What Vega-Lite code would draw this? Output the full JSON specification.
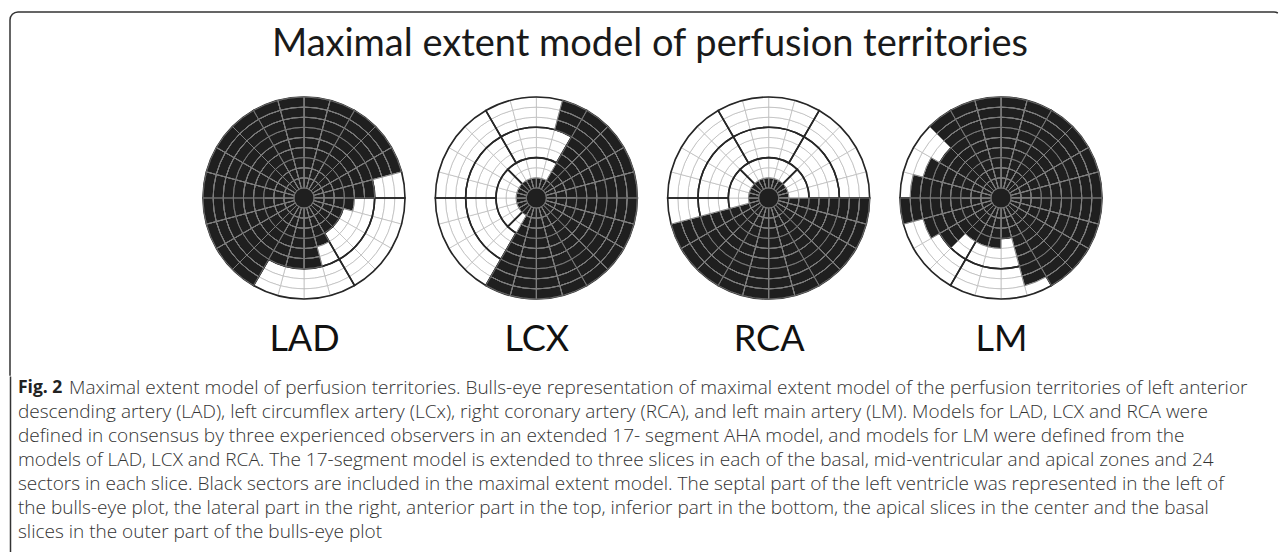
{
 "$schema": "https://vega.github.io/schema/vega-lite/v6.json",
 "background": "white",
 "padding": {"left": 9, "top": 11, "right": 0, "bottom": 0},
 "autosize": {"type": "pad"},
 "spacing": 0,
 "bounds": "flush",
 "config": {"view": {"stroke": null}},
 "datasets": {
  "cells": [
   {"r0":0,"r1":1,"s0":0,"s1":24,"LAD":1,"LCX":1,"RCA":1,"LM":1},
   {"r0":1,"r1":2,"s0":0,"s1":1,"LAD":1,"LCX":1,"RCA":1,"LM":1},
   {"r0":1,"r1":2,"s0":1,"s1":2,"LAD":1,"LCX":1,"RCA":1,"LM":1},
   {"r0":1,"r1":2,"s0":2,"s1":3,"LAD":1,"LCX":1,"RCA":1,"LM":1},
   {"r0":1,"r1":2,"s0":3,"s1":4,"LAD":1,"LCX":1,"RCA":1,"LM":1},
   {"r0":1,"r1":2,"s0":4,"s1":5,"LAD":1,"LCX":1,"RCA":1,"LM":1},
   {"r0":1,"r1":2,"s0":5,"s1":6,"LAD":1,"LCX":1,"RCA":1,"LM":1},
   {"r0":1,"r1":2,"s0":6,"s1":7,"LAD":1,"LCX":1,"RCA":1,"LM":1},
   {"r0":1,"r1":2,"s0":7,"s1":8,"LAD":1,"LCX":1,"RCA":1,"LM":1},
   {"r0":1,"r1":2,"s0":8,"s1":9,"LAD":1,"LCX":1,"RCA":1,"LM":1},
   {"r0":1,"r1":2,"s0":9,"s1":10,"LAD":1,"LCX":1,"RCA":1,"LM":1},
   {"r0":1,"r1":2,"s0":10,"s1":11,"LAD":1,"LCX":1,"RCA":1,"LM":1},
   {"r0":1,"r1":2,"s0":11,"s1":12,"LAD":1,"LCX":1,"RCA":1,"LM":1},
   {"r0":1,"r1":2,"s0":12,"s1":13,"LAD":1,"LCX":1,"RCA":1,"LM":1},
   {"r0":1,"r1":2,"s0":13,"s1":14,"LAD":1,"LCX":1,"RCA":1,"LM":1},
   {"r0":1,"r1":2,"s0":14,"s1":15,"LAD":1,"LCX":1,"RCA":1,"LM":1},
   {"r0":1,"r1":2,"s0":15,"s1":16,"LAD":1,"LCX":1,"RCA":1,"LM":1},
   {"r0":1,"r1":2,"s0":16,"s1":17,"LAD":1,"LCX":1,"RCA":1,"LM":1},
   {"r0":1,"r1":2,"s0":17,"s1":18,"LAD":1,"LCX":1,"RCA":1,"LM":1},
   {"r0":1,"r1":2,"s0":18,"s1":19,"LAD":1,"LCX":1,"RCA":1,"LM":1},
   {"r0":1,"r1":2,"s0":19,"s1":20,"LAD":1,"LCX":1,"RCA":1,"LM":1},
   {"r0":1,"r1":2,"s0":20,"s1":21,"LAD":1,"LCX":1,"RCA":1,"LM":1},
   {"r0":1,"r1":2,"s0":21,"s1":22,"LAD":1,"LCX":1,"RCA":1,"LM":1},
   {"r0":1,"r1":2,"s0":22,"s1":23,"LAD":1,"LCX":1,"RCA":1,"LM":1},
   {"r0":1,"r1":2,"s0":23,"s1":24,"LAD":1,"LCX":1,"RCA":1,"LM":1},

   {"r0":2,"r1":3,"s0":0,"s1":1,"LAD":1,"LCX":0,"RCA":0,"LM":1},
   {"r0":2,"r1":3,"s0":1,"s1":2,"LAD":1,"LCX":0,"RCA":0,"LM":1},
   {"r0":2,"r1":3,"s0":2,"s1":3,"LAD":1,"LCX":1,"RCA":0,"LM":1},
   {"r0":2,"r1":3,"s0":3,"s1":4,"LAD":1,"LCX":1,"RCA":0,"LM":1},
   {"r0":2,"r1":3,"s0":4,"s1":5,"LAD":1,"LCX":1,"RCA":0,"LM":1},
   {"r0":2,"r1":3,"s0":5,"s1":6,"LAD":1,"LCX":1,"RCA":0,"LM":1},
   {"r0":2,"r1":3,"s0":6,"s1":7,"LAD":1,"LCX":1,"RCA":1,"LM":1},
   {"r0":2,"r1":3,"s0":7,"s1":8,"LAD":1,"LCX":1,"RCA":1,"LM":1},
   {"r0":2,"r1":3,"s0":8,"s1":9,"LAD":1,"LCX":1,"RCA":1,"LM":1},
   {"r0":2,"r1":3,"s0":9,"s1":10,"LAD":1,"LCX":1,"RCA":1,"LM":1},
   {"r0":2,"r1":3,"s0":10,"s1":11,"LAD":1,"LCX":1,"RCA":1,"LM":1},
   {"r0":2,"r1":3,"s0":11,"s1":12,"LAD":1,"LCX":1,"RCA":1,"LM":1},
   {"r0":2,"r1":3,"s0":12,"s1":13,"LAD":1,"LCX":1,"RCA":1,"LM":1},
   {"r0":2,"r1":3,"s0":13,"s1":14,"LAD":1,"LCX":1,"RCA":1,"LM":1},
   {"r0":2,"r1":3,"s0":14,"s1":15,"LAD":1,"LCX":0,"RCA":1,"LM":1},
   {"r0":2,"r1":3,"s0":15,"s1":16,"LAD":1,"LCX":0,"RCA":1,"LM":1},
   {"r0":2,"r1":3,"s0":16,"s1":17,"LAD":1,"LCX":0,"RCA":1,"LM":1},
   {"r0":2,"r1":3,"s0":17,"s1":18,"LAD":1,"LCX":0,"RCA":0,"LM":1},
   {"r0":2,"r1":3,"s0":18,"s1":19,"LAD":1,"LCX":0,"RCA":0,"LM":1},
   {"r0":2,"r1":3,"s0":19,"s1":20,"LAD":1,"LCX":0,"RCA":0,"LM":1},
   {"r0":2,"r1":3,"s0":20,"s1":21,"LAD":1,"LCX":0,"RCA":0,"LM":1},
   {"r0":2,"r1":3,"s0":21,"s1":22,"LAD":1,"LCX":0,"RCA":0,"LM":1},
   {"r0":2,"r1":3,"s0":22,"s1":23,"LAD":1,"LCX":0,"RCA":0,"LM":1},
   {"r0":2,"r1":3,"s0":23,"s1":24,"LAD":1,"LCX":0,"RCA":0,"LM":1},

   {"r0":3,"r1":4,"s0":0,"s1":1,"LAD":1,"LCX":0,"RCA":0,"LM":1},
   {"r0":3,"r1":4,"s0":1,"s1":2,"LAD":1,"LCX":0,"RCA":0,"LM":1},
   {"r0":3,"r1":4,"s0":2,"s1":3,"LAD":1,"LCX":1,"RCA":0,"LM":1},
   {"r0":3,"r1":4,"s0":3,"s1":4,"LAD":1,"LCX":1,"RCA":0,"LM":1},
   {"r0":3,"r1":4,"s0":4,"s1":5,"LAD":1,"LCX":1,"RCA":0,"LM":1},
   {"r0":3,"r1":4,"s0":5,"s1":6,"LAD":1,"LCX":1,"RCA":0,"LM":1},
   {"r0":3,"r1":4,"s0":6,"s1":7,"LAD":1,"LCX":1,"RCA":1,"LM":1},
   {"r0":3,"r1":4,"s0":7,"s1":8,"LAD":1,"LCX":1,"RCA":1,"LM":1},
   {"r0":3,"r1":4,"s0":8,"s1":9,"LAD":1,"LCX":1,"RCA":1,"LM":1},
   {"r0":3,"r1":4,"s0":9,"s1":10,"LAD":1,"LCX":1,"RCA":1,"LM":1},
   {"r0":3,"r1":4,"s0":10,"s1":11,"LAD":1,"LCX":1,"RCA":1,"LM":1},
   {"r0":3,"r1":4,"s0":11,"s1":12,"LAD":1,"LCX":1,"RCA":1,"LM":1},
   {"r0":3,"r1":4,"s0":12,"s1":13,"LAD":1,"LCX":1,"RCA":1,"LM":1},
   {"r0":3,"r1":4,"s0":13,"s1":14,"LAD":1,"LCX":1,"RCA":1,"LM":1},
   {"r0":3,"r1":4,"s0":14,"s1":15,"LAD":1,"LCX":0,"RCA":1,"LM":1},
   {"r0":3,"r1":4,"s0":15,"s1":16,"LAD":1,"LCX":0,"RCA":1,"LM":1},
   {"r0":3,"r1":4,"s0":16,"s1":17,"LAD":1,"LCX":0,"RCA":1,"LM":1},
   {"r0":3,"r1":4,"s0":17,"s1":18,"LAD":1,"LCX":0,"RCA":0,"LM":1},
   {"r0":3,"r1":4,"s0":18,"s1":19,"LAD":1,"LCX":0,"RCA":0,"LM":1},
   {"r0":3,"r1":4,"s0":19,"s1":20,"LAD":1,"LCX":0,"RCA":0,"LM":1},
   {"r0":3,"r1":4,"s0":20,"s1":21,"LAD":1,"LCX":0,"RCA":0,"LM":1},
   {"r0":3,"r1":4,"s0":21,"s1":22,"LAD":1,"LCX":0,"RCA":0,"LM":1},
   {"r0":3,"r1":4,"s0":22,"s1":23,"LAD":1,"LCX":0,"RCA":0,"LM":1},
   {"r0":3,"r1":4,"s0":23,"s1":24,"LAD":1,"LCX":0,"RCA":0,"LM":1},

   {"r0":4,"r1":5,"s0":0,"s1":1,"LAD":1,"LCX":0,"RCA":0,"LM":1},
   {"r0":4,"r1":5,"s0":1,"s1":2,"LAD":1,"LCX":0,"RCA":0,"LM":1},
   {"r0":4,"r1":5,"s0":2,"s1":3,"LAD":1,"LCX":1,"RCA":0,"LM":1},
   {"r0":4,"r1":5,"s0":3,"s1":4,"LAD":1,"LCX":1,"RCA":0,"LM":1},
   {"r0":4,"r1":5,"s0":4,"s1":5,"LAD":1,"LCX":1,"RCA":0,"LM":1},
   {"r0":4,"r1":5,"s0":5,"s1":6,"LAD":1,"LCX":1,"RCA":0,"LM":1},
   {"r0":4,"r1":5,"s0":6,"s1":7,"LAD":1,"LCX":1,"RCA":1,"LM":1},
   {"r0":4,"r1":5,"s0":7,"s1":8,"LAD":0,"LCX":1,"RCA":1,"LM":1},
   {"r0":4,"r1":5,"s0":8,"s1":9,"LAD":0,"LCX":1,"RCA":1,"LM":1},
   {"r0":4,"r1":5,"s0":9,"s1":10,"LAD":0,"LCX":1,"RCA":1,"LM":1},
   {"r0":4,"r1":5,"s0":10,"s1":11,"LAD":1,"LCX":1,"RCA":1,"LM":1},
   {"r0":4,"r1":5,"s0":11,"s1":12,"LAD":1,"LCX":1,"RCA":1,"LM":0},
   {"r0":4,"r1":5,"s0":12,"s1":13,"LAD":1,"LCX":1,"RCA":1,"LM":1},
   {"r0":4,"r1":5,"s0":13,"s1":14,"LAD":1,"LCX":1,"RCA":1,"LM":1},
   {"r0":4,"r1":5,"s0":14,"s1":15,"LAD":1,"LCX":0,"RCA":1,"LM":1},
   {"r0":4,"r1":5,"s0":15,"s1":16,"LAD":1,"LCX":0,"RCA":1,"LM":1},
   {"r0":4,"r1":5,"s0":16,"s1":17,"LAD":1,"LCX":0,"RCA":1,"LM":1},
   {"r0":4,"r1":5,"s0":17,"s1":18,"LAD":1,"LCX":0,"RCA":0,"LM":1},
   {"r0":4,"r1":5,"s0":18,"s1":19,"LAD":1,"LCX":0,"RCA":0,"LM":1},
   {"r0":4,"r1":5,"s0":19,"s1":20,"LAD":1,"LCX":0,"RCA":0,"LM":1},
   {"r0":4,"r1":5,"s0":20,"s1":21,"LAD":1,"LCX":0,"RCA":0,"LM":1},
   {"r0":4,"r1":5,"s0":21,"s1":22,"LAD":1,"LCX":0,"RCA":0,"LM":1},
   {"r0":4,"r1":5,"s0":22,"s1":23,"LAD":1,"LCX":0,"RCA":0,"LM":1},
   {"r0":4,"r1":5,"s0":23,"s1":24,"LAD":1,"LCX":0,"RCA":0,"LM":1},

   {"r0":5,"r1":6,"s0":0,"s1":1,"LAD":1,"LCX":0,"RCA":0,"LM":1},
   {"r0":5,"r1":6,"s0":1,"s1":2,"LAD":1,"LCX":0,"RCA":0,"LM":1},
   {"r0":5,"r1":6,"s0":2,"s1":3,"LAD":1,"LCX":1,"RCA":0,"LM":1},
   {"r0":5,"r1":6,"s0":3,"s1":4,"LAD":1,"LCX":1,"RCA":0,"LM":1},
   {"r0":5,"r1":6,"s0":4,"s1":5,"LAD":1,"LCX":1,"RCA":0,"LM":1},
   {"r0":5,"r1":6,"s0":5,"s1":6,"LAD":1,"LCX":1,"RCA":0,"LM":1},
   {"r0":5,"r1":6,"s0":6,"s1":7,"LAD":0,"LCX":1,"RCA":1,"LM":1},
   {"r0":5,"r1":6,"s0":7,"s1":8,"LAD":0,"LCX":1,"RCA":1,"LM":1},
   {"r0":5,"r1":6,"s0":8,"s1":9,"LAD":0,"LCX":1,"RCA":1,"LM":1},
   {"r0":5,"r1":6,"s0":9,"s1":10,"LAD":0,"LCX":1,"RCA":1,"LM":1},
   {"r0":5,"r1":6,"s0":10,"s1":11,"LAD":0,"LCX":1,"RCA":1,"LM":1},
   {"r0":5,"r1":6,"s0":11,"s1":12,"LAD":1,"LCX":1,"RCA":1,"LM":0},
   {"r0":5,"r1":6,"s0":12,"s1":13,"LAD":1,"LCX":1,"RCA":1,"LM":0},
   {"r0":5,"r1":6,"s0":13,"s1":14,"LAD":1,"LCX":1,"RCA":1,"LM":0},
   {"r0":5,"r1":6,"s0":14,"s1":15,"LAD":1,"LCX":0,"RCA":1,"LM":0},
   {"r0":5,"r1":6,"s0":15,"s1":16,"LAD":1,"LCX":0,"RCA":1,"LM":1},
   {"r0":5,"r1":6,"s0":16,"s1":17,"LAD":1,"LCX":0,"RCA":1,"LM":1},
   {"r0":5,"r1":6,"s0":17,"s1":18,"LAD":1,"LCX":0,"RCA":0,"LM":1},
   {"r0":5,"r1":6,"s0":18,"s1":19,"LAD":1,"LCX":0,"RCA":0,"LM":1},
   {"r0":5,"r1":6,"s0":19,"s1":20,"LAD":1,"LCX":0,"RCA":0,"LM":1},
   {"r0":5,"r1":6,"s0":20,"s1":21,"LAD":1,"LCX":0,"RCA":0,"LM":1},
   {"r0":5,"r1":6,"s0":21,"s1":22,"LAD":1,"LCX":0,"RCA":0,"LM":1},
   {"r0":5,"r1":6,"s0":22,"s1":23,"LAD":1,"LCX":0,"RCA":0,"LM":1},
   {"r0":5,"r1":6,"s0":23,"s1":24,"LAD":1,"LCX":0,"RCA":0,"LM":1},

   {"r0":6,"r1":7,"s0":0,"s1":1,"LAD":1,"LCX":0,"RCA":0,"LM":1},
   {"r0":6,"r1":7,"s0":1,"s1":2,"LAD":1,"LCX":0,"RCA":0,"LM":1},
   {"r0":6,"r1":7,"s0":2,"s1":3,"LAD":1,"LCX":1,"RCA":0,"LM":1},
   {"r0":6,"r1":7,"s0":3,"s1":4,"LAD":1,"LCX":1,"RCA":0,"LM":1},
   {"r0":6,"r1":7,"s0":4,"s1":5,"LAD":1,"LCX":1,"RCA":0,"LM":1},
   {"r0":6,"r1":7,"s0":5,"s1":6,"LAD":1,"LCX":1,"RCA":0,"LM":1},
   {"r0":6,"r1":7,"s0":6,"s1":7,"LAD":0,"LCX":1,"RCA":1,"LM":1},
   {"r0":6,"r1":7,"s0":7,"s1":8,"LAD":0,"LCX":1,"RCA":1,"LM":1},
   {"r0":6,"r1":7,"s0":8,"s1":9,"LAD":0,"LCX":1,"RCA":1,"LM":1},
   {"r0":6,"r1":7,"s0":9,"s1":10,"LAD":0,"LCX":1,"RCA":1,"LM":1},
   {"r0":6,"r1":7,"s0":10,"s1":11,"LAD":0,"LCX":1,"RCA":1,"LM":1},
   {"r0":6,"r1":7,"s0":11,"s1":12,"LAD":1,"LCX":1,"RCA":1,"LM":0},
   {"r0":6,"r1":7,"s0":12,"s1":13,"LAD":1,"LCX":1,"RCA":1,"LM":0},
   {"r0":6,"r1":7,"s0":13,"s1":14,"LAD":1,"LCX":1,"RCA":1,"LM":0},
   {"r0":6,"r1":7,"s0":14,"s1":15,"LAD":1,"LCX":0,"RCA":1,"LM":0},
   {"r0":6,"r1":7,"s0":15,"s1":16,"LAD":1,"LCX":0,"RCA":1,"LM":1},
   {"r0":6,"r1":7,"s0":16,"s1":17,"LAD":1,"LCX":0,"RCA":1,"LM":1},
   {"r0":6,"r1":7,"s0":17,"s1":18,"LAD":1,"LCX":0,"RCA":0,"LM":1},
   {"r0":6,"r1":7,"s0":18,"s1":19,"LAD":1,"LCX":0,"RCA":0,"LM":1},
   {"r0":6,"r1":7,"s0":19,"s1":20,"LAD":1,"LCX":0,"RCA":0,"LM":1},
   {"r0":6,"r1":7,"s0":20,"s1":21,"LAD":1,"LCX":0,"RCA":0,"LM":1},
   {"r0":6,"r1":7,"s0":21,"s1":22,"LAD":1,"LCX":0,"RCA":0,"LM":1},
   {"r0":6,"r1":7,"s0":22,"s1":23,"LAD":1,"LCX":0,"RCA":0,"LM":1},
   {"r0":6,"r1":7,"s0":23,"s1":24,"LAD":1,"LCX":0,"RCA":0,"LM":1},

   {"r0":7,"r1":8,"s0":0,"s1":1,"LAD":1,"LCX":0,"RCA":0,"LM":1},
   {"r0":7,"r1":8,"s0":1,"s1":2,"LAD":1,"LCX":1,"RCA":0,"LM":1},
   {"r0":7,"r1":8,"s0":2,"s1":3,"LAD":1,"LCX":1,"RCA":0,"LM":1},
   {"r0":7,"r1":8,"s0":3,"s1":4,"LAD":1,"LCX":1,"RCA":0,"LM":1},
   {"r0":7,"r1":8,"s0":4,"s1":5,"LAD":1,"LCX":1,"RCA":0,"LM":1},
   {"r0":7,"r1":8,"s0":5,"s1":6,"LAD":0,"LCX":1,"RCA":0,"LM":1},
   {"r0":7,"r1":8,"s0":6,"s1":7,"LAD":0,"LCX":1,"RCA":1,"LM":1},
   {"r0":7,"r1":8,"s0":7,"s1":8,"LAD":0,"LCX":1,"RCA":1,"LM":1},
   {"r0":7,"r1":8,"s0":8,"s1":9,"LAD":0,"LCX":1,"RCA":1,"LM":1},
   {"r0":7,"r1":8,"s0":9,"s1":10,"LAD":0,"LCX":1,"RCA":1,"LM":1},
   {"r0":7,"r1":8,"s0":10,"s1":11,"LAD":0,"LCX":1,"RCA":1,"LM":1},
   {"r0":7,"r1":8,"s0":11,"s1":12,"LAD":0,"LCX":1,"RCA":1,"LM":0},
   {"r0":7,"r1":8,"s0":12,"s1":13,"LAD":0,"LCX":1,"RCA":1,"LM":0},
   {"r0":7,"r1":8,"s0":13,"s1":14,"LAD":0,"LCX":1,"RCA":1,"LM":0},
   {"r0":7,"r1":8,"s0":14,"s1":15,"LAD":1,"LCX":0,"RCA":1,"LM":0},
   {"r0":7,"r1":8,"s0":15,"s1":16,"LAD":1,"LCX":0,"RCA":1,"LM":0},
   {"r0":7,"r1":8,"s0":16,"s1":17,"LAD":1,"LCX":0,"RCA":1,"LM":1},
   {"r0":7,"r1":8,"s0":17,"s1":18,"LAD":1,"LCX":0,"RCA":0,"LM":1},
   {"r0":7,"r1":8,"s0":18,"s1":19,"LAD":1,"LCX":0,"RCA":0,"LM":1},
   {"r0":7,"r1":8,"s0":19,"s1":20,"LAD":1,"LCX":0,"RCA":0,"LM":1},
   {"r0":7,"r1":8,"s0":20,"s1":21,"LAD":1,"LCX":0,"RCA":0,"LM":0},
   {"r0":7,"r1":8,"s0":21,"s1":22,"LAD":1,"LCX":0,"RCA":0,"LM":1},
   {"r0":7,"r1":8,"s0":22,"s1":23,"LAD":1,"LCX":0,"RCA":0,"LM":1},
   {"r0":7,"r1":8,"s0":23,"s1":24,"LAD":1,"LCX":0,"RCA":0,"LM":1},

   {"r0":8,"r1":9,"s0":0,"s1":1,"LAD":1,"LCX":0,"RCA":0,"LM":1},
   {"r0":8,"r1":9,"s0":1,"s1":2,"LAD":1,"LCX":1,"RCA":0,"LM":1},
   {"r0":8,"r1":9,"s0":2,"s1":3,"LAD":1,"LCX":1,"RCA":0,"LM":1},
   {"r0":8,"r1":9,"s0":3,"s1":4,"LAD":1,"LCX":1,"RCA":0,"LM":1},
   {"r0":8,"r1":9,"s0":4,"s1":5,"LAD":1,"LCX":1,"RCA":0,"LM":1},
   {"r0":8,"r1":9,"s0":5,"s1":6,"LAD":0,"LCX":1,"RCA":0,"LM":1},
   {"r0":8,"r1":9,"s0":6,"s1":7,"LAD":0,"LCX":1,"RCA":1,"LM":1},
   {"r0":8,"r1":9,"s0":7,"s1":8,"LAD":0,"LCX":1,"RCA":1,"LM":1},
   {"r0":8,"r1":9,"s0":8,"s1":9,"LAD":0,"LCX":1,"RCA":1,"LM":1},
   {"r0":8,"r1":9,"s0":9,"s1":10,"LAD":0,"LCX":1,"RCA":1,"LM":1},
   {"r0":8,"r1":9,"s0":10,"s1":11,"LAD":0,"LCX":1,"RCA":1,"LM":1},
   {"r0":8,"r1":9,"s0":11,"s1":12,"LAD":0,"LCX":1,"RCA":1,"LM":0},
   {"r0":8,"r1":9,"s0":12,"s1":13,"LAD":0,"LCX":1,"RCA":1,"LM":0},
   {"r0":8,"r1":9,"s0":13,"s1":14,"LAD":0,"LCX":1,"RCA":1,"LM":0},
   {"r0":8,"r1":9,"s0":14,"s1":15,"LAD":1,"LCX":0,"RCA":1,"LM":0},
   {"r0":8,"r1":9,"s0":15,"s1":16,"LAD":1,"LCX":0,"RCA":1,"LM":0},
   {"r0":8,"r1":9,"s0":16,"s1":17,"LAD":1,"LCX":0,"RCA":1,"LM":0},
   {"r0":8,"r1":9,"s0":17,"s1":18,"LAD":1,"LCX":0,"RCA":0,"LM":1},
   {"r0":8,"r1":9,"s0":18,"s1":19,"LAD":1,"LCX":0,"RCA":0,"LM":1},
   {"r0":8,"r1":9,"s0":19,"s1":20,"LAD":1,"LCX":0,"RCA":0,"LM":0},
   {"r0":8,"r1":9,"s0":20,"s1":21,"LAD":1,"LCX":0,"RCA":0,"LM":0},
   {"r0":8,"r1":9,"s0":21,"s1":22,"LAD":1,"LCX":0,"RCA":0,"LM":1},
   {"r0":8,"r1":9,"s0":22,"s1":23,"LAD":1,"LCX":0,"RCA":0,"LM":1},
   {"r0":8,"r1":9,"s0":23,"s1":24,"LAD":1,"LCX":0,"RCA":0,"LM":1},

   {"r0":9,"r1":10,"s0":0,"s1":1,"LAD":1,"LCX":0,"RCA":0,"LM":1},
   {"r0":9,"r1":10,"s0":1,"s1":2,"LAD":1,"LCX":1,"RCA":0,"LM":1},
   {"r0":9,"r1":10,"s0":2,"s1":3,"LAD":1,"LCX":1,"RCA":0,"LM":1},
   {"r0":9,"r1":10,"s0":3,"s1":4,"LAD":1,"LCX":1,"RCA":0,"LM":1},
   {"r0":9,"r1":10,"s0":4,"s1":5,"LAD":1,"LCX":1,"RCA":0,"LM":1},
   {"r0":9,"r1":10,"s0":5,"s1":6,"LAD":0,"LCX":1,"RCA":0,"LM":1},
   {"r0":9,"r1":10,"s0":6,"s1":7,"LAD":0,"LCX":1,"RCA":1,"LM":1},
   {"r0":9,"r1":10,"s0":7,"s1":8,"LAD":0,"LCX":1,"RCA":1,"LM":1},
   {"r0":9,"r1":10,"s0":8,"s1":9,"LAD":0,"LCX":1,"RCA":1,"LM":1},
   {"r0":9,"r1":10,"s0":9,"s1":10,"LAD":0,"LCX":1,"RCA":1,"LM":1},
   {"r0":9,"r1":10,"s0":10,"s1":11,"LAD":0,"LCX":1,"RCA":1,"LM":0},
   {"r0":9,"r1":10,"s0":11,"s1":12,"LAD":0,"LCX":1,"RCA":1,"LM":0},
   {"r0":9,"r1":10,"s0":12,"s1":13,"LAD":0,"LCX":1,"RCA":1,"LM":0},
   {"r0":9,"r1":10,"s0":13,"s1":14,"LAD":0,"LCX":1,"RCA":1,"LM":0},
   {"r0":9,"r1":10,"s0":14,"s1":15,"LAD":1,"LCX":0,"RCA":1,"LM":0},
   {"r0":9,"r1":10,"s0":15,"s1":16,"LAD":1,"LCX":0,"RCA":1,"LM":0},
   {"r0":9,"r1":10,"s0":16,"s1":17,"LAD":1,"LCX":0,"RCA":1,"LM":0},
   {"r0":9,"r1":10,"s0":17,"s1":18,"LAD":1,"LCX":0,"RCA":0,"LM":1},
   {"r0":9,"r1":10,"s0":18,"s1":19,"LAD":1,"LCX":0,"RCA":0,"LM":0},
   {"r0":9,"r1":10,"s0":19,"s1":20,"LAD":1,"LCX":0,"RCA":0,"LM":0},
   {"r0":9,"r1":10,"s0":20,"s1":21,"LAD":1,"LCX":0,"RCA":0,"LM":0},
   {"r0":9,"r1":10,"s0":21,"s1":22,"LAD":1,"LCX":0,"RCA":0,"LM":1},
   {"r0":9,"r1":10,"s0":22,"s1":23,"LAD":1,"LCX":0,"RCA":0,"LM":1},
   {"r0":9,"r1":10,"s0":23,"s1":24,"LAD":1,"LCX":0,"RCA":0,"LM":1}
  ],
  "segments": [
   {"model":"LAD","r0":1,"r1":4,"s0":-3,"s1":3},{"model":"LAD","r0":1,"r1":4,"s0":3,"s1":9},{"model":"LAD","r0":1,"r1":4,"s0":9,"s1":15},{"model":"LAD","r0":1,"r1":4,"s0":15,"s1":21},
   {"model":"LAD","r0":4,"r1":7,"s0":-2,"s1":2},{"model":"LAD","r0":4,"r1":7,"s0":2,"s1":6},{"model":"LAD","r0":4,"r1":7,"s0":6,"s1":10},{"model":"LAD","r0":4,"r1":7,"s0":10,"s1":14},{"model":"LAD","r0":4,"r1":7,"s0":14,"s1":18},{"model":"LAD","r0":4,"r1":7,"s0":18,"s1":22},
   {"model":"LAD","r0":7,"r1":10,"s0":-2,"s1":2},{"model":"LAD","r0":7,"r1":10,"s0":2,"s1":6},{"model":"LAD","r0":7,"r1":10,"s0":6,"s1":10},{"model":"LAD","r0":7,"r1":10,"s0":10,"s1":14},{"model":"LAD","r0":7,"r1":10,"s0":14,"s1":18},{"model":"LAD","r0":7,"r1":10,"s0":18,"s1":22},
   {"model":"LCX","r0":1,"r1":4,"s0":-3,"s1":3},{"model":"LCX","r0":1,"r1":4,"s0":3,"s1":9},{"model":"LCX","r0":1,"r1":4,"s0":9,"s1":15},{"model":"LCX","r0":1,"r1":4,"s0":15,"s1":21},
   {"model":"LCX","r0":4,"r1":7,"s0":-2,"s1":2},{"model":"LCX","r0":4,"r1":7,"s0":2,"s1":6},{"model":"LCX","r0":4,"r1":7,"s0":6,"s1":10},{"model":"LCX","r0":4,"r1":7,"s0":10,"s1":14},{"model":"LCX","r0":4,"r1":7,"s0":14,"s1":18},{"model":"LCX","r0":4,"r1":7,"s0":18,"s1":22},
   {"model":"LCX","r0":7,"r1":10,"s0":-2,"s1":2},{"model":"LCX","r0":7,"r1":10,"s0":2,"s1":6},{"model":"LCX","r0":7,"r1":10,"s0":6,"s1":10},{"model":"LCX","r0":7,"r1":10,"s0":10,"s1":14},{"model":"LCX","r0":7,"r1":10,"s0":14,"s1":18},{"model":"LCX","r0":7,"r1":10,"s0":18,"s1":22},
   {"model":"RCA","r0":1,"r1":4,"s0":-3,"s1":3},{"model":"RCA","r0":1,"r1":4,"s0":3,"s1":9},{"model":"RCA","r0":1,"r1":4,"s0":9,"s1":15},{"model":"RCA","r0":1,"r1":4,"s0":15,"s1":21},
   {"model":"RCA","r0":4,"r1":7,"s0":-2,"s1":2},{"model":"RCA","r0":4,"r1":7,"s0":2,"s1":6},{"model":"RCA","r0":4,"r1":7,"s0":6,"s1":10},{"model":"RCA","r0":4,"r1":7,"s0":10,"s1":14},{"model":"RCA","r0":4,"r1":7,"s0":14,"s1":18},{"model":"RCA","r0":4,"r1":7,"s0":18,"s1":22},
   {"model":"RCA","r0":7,"r1":10,"s0":-2,"s1":2},{"model":"RCA","r0":7,"r1":10,"s0":2,"s1":6},{"model":"RCA","r0":7,"r1":10,"s0":6,"s1":10},{"model":"RCA","r0":7,"r1":10,"s0":10,"s1":14},{"model":"RCA","r0":7,"r1":10,"s0":14,"s1":18},{"model":"RCA","r0":7,"r1":10,"s0":18,"s1":22},
   {"model":"LM","r0":1,"r1":4,"s0":-3,"s1":3},{"model":"LM","r0":1,"r1":4,"s0":3,"s1":9},{"model":"LM","r0":1,"r1":4,"s0":9,"s1":15},{"model":"LM","r0":1,"r1":4,"s0":15,"s1":21},
   {"model":"LM","r0":4,"r1":7,"s0":-2,"s1":2},{"model":"LM","r0":4,"r1":7,"s0":2,"s1":6},{"model":"LM","r0":4,"r1":7,"s0":6,"s1":10},{"model":"LM","r0":4,"r1":7,"s0":10,"s1":14},{"model":"LM","r0":4,"r1":7,"s0":14,"s1":18},{"model":"LM","r0":4,"r1":7,"s0":18,"s1":22},
   {"model":"LM","r0":7,"r1":10,"s0":-2,"s1":2},{"model":"LM","r0":7,"r1":10,"s0":2,"s1":6},{"model":"LM","r0":7,"r1":10,"s0":6,"s1":10},{"model":"LM","r0":7,"r1":10,"s0":10,"s1":14},{"model":"LM","r0":7,"r1":10,"s0":14,"s1":18},{"model":"LM","r0":7,"r1":10,"s0":18,"s1":22}
  ],
  "caption": [
   {"line":1,"part":"label","text":"Fig. 2"},
   {"line":1,"part":"body","text":"Maximal extent model of perfusion territories. Bulls-eye representation of maximal extent model of the perfusion territories of left anterior"},
   {"line":2,"part":"body","text":"descending artery (LAD), left circumflex artery (LCx), right coronary artery (RCA), and left main artery (LM). Models for LAD, LCX and RCA were"},
   {"line":3,"part":"body","text":"defined in consensus by three experienced observers in an extended 17- segment AHA model, and models for LM were defined from the"},
   {"line":4,"part":"body","text":"models of LAD, LCX and RCA. The 17-segment model is extended to three slices in each of the basal, mid-ventricular and apical zones and 24"},
   {"line":5,"part":"body","text":"sectors in each slice. Black sectors are included in the maximal extent model. The septal part of the left ventricle was represented in the left of"},
   {"line":6,"part":"body","text":"the bulls-eye plot, the lateral part in the right, anterior part in the top, inferior part in the bottom, the apical slices in the center and the basal"},
   {"line":7,"part":"body","text":"slices in the outer part of the bulls-eye plot"}
  ]
 },
 "vconcat": [
  {
   "width": 1272,
   "height": 372,
   "view": {"stroke": "#333333", "strokeWidth": 1.5, "cornerRadius": 8, "strokeDash": [1260, 1645.7, 400]},
   "title": {"text": "Maximal extent model of perfusion territories", "font": "Lato", "fontSize": 38, "fontWeight": "normal", "color": "#1a1a1a", "anchor": "middle", "frame": "group", "offset": -52, "dx": 4},
   "encoding": {
    "x": {"field": "model", "type": "nominal", "sort": null,
          "scale": {"type": "point", "domain": ["LAD", "LCX", "RCA", "LM"], "range": [294, 991], "padding": 0},
          "axis": {"orient": "bottom", "offset": -62, "title": null, "domain": false, "ticks": false, "tickSize": 0, "labelPadding": 0, "labelFont": "Lato", "labelFontSize": 36, "labelColor": "#111111", "labelAngle": 0, "grid": false}},
    "theta": {"field": "s0", "type": "quantitative", "stack": null, "scale": {"domain": [0, 24], "range": [0, 6.283185307179586], "nice": false, "zero": false}},
    "theta2": {"field": "s1"},
    "radius": {"field": "r0", "type": "quantitative", "scale": {"type": "linear", "domain": [0, 10], "range": [0, 101], "zero": true, "nice": false}},
    "radius2": {"field": "r1"}
   },
   "layer": [
    {
     "data": {"name": "cells"},
     "transform": [{"fold": ["LAD", "LCX", "RCA", "LM"], "as": ["model", "on"]}],
     "mark": {"type": "arc", "stroke": "#b8b8b8", "strokeWidth": 0.7},
     "encoding": {"color": {"field": "on", "type": "nominal", "scale": {"domain": [0, 1], "range": ["#ffffff", "#1f1f1f"]}, "legend": null}}
    },
    {
     "data": {"name": "segments"},
     "mark": {"type": "arc", "filled": false, "stroke": "#262626", "strokeWidth": 1.6}
    },
    {
     "data": {"name": "cells"},
     "transform": [{"fold": ["LAD", "LCX", "RCA", "LM"], "as": ["model", "on"]}, {"filter": "datum.on == 1"}],
     "mark": {"type": "arc", "filled": false, "stroke": "#7a7a7a", "strokeWidth": 0.8}
    }
   ]
  },
  {
   "width": 1272,
   "height": 169,
   "data": {"name": "caption"},
   "encoding": {
    "y": {"field": "line", "type": "ordinal",
          "scale": {"type": "point", "domain": [1, 2, 3, 4, 5, 6, 7], "range": [-8, 169], "padding": 0.6875, "align": 0.3636},
          "axis": {"orient": "left", "domain": true, "domainColor": "#333333", "domainWidth": 1.5, "labels": false, "ticks": false, "title": null, "grid": false}},
    "x": {"datum": 0, "type": "quantitative", "scale": {"domain": [0, 1]}, "axis": null},
    "text": {"field": "text"}
   },
   "layer": [
    {"transform": [{"filter": "datum.part == 'body' && datum.line > 1"}], "mark": {"type": "text", "align": "left", "baseline": "middle", "dx": 8, "font": "Open Sans", "fontSize": 19, "fontWeight": 300, "color": "#333333"}},
    {"transform": [{"filter": "datum.part == 'body' && datum.line == 1"}], "mark": {"type": "text", "align": "left", "baseline": "middle", "dx": 59, "font": "Open Sans", "fontSize": 19, "fontWeight": 300, "color": "#333333"}},
    {"transform": [{"filter": "datum.part == 'label'"}], "mark": {"type": "text", "align": "left", "baseline": "middle", "dx": 8, "font": "Open Sans", "fontSize": 17.5, "fontWeight": 700, "color": "#222222"}}
   ]
  }
 ]
}
